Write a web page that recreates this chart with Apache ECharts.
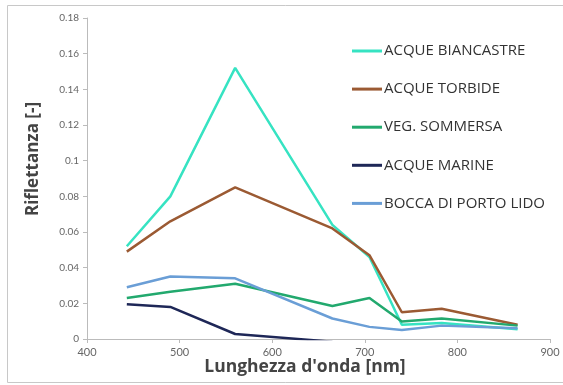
<!DOCTYPE html>
<html><head><meta charset="utf-8">
<script src="https://cdn.jsdelivr.net/npm/echarts@6/dist/echarts.min.js"></script>
<style>html,body{margin:0;padding:0;background:#fff}#c{width:563px;height:385px}</style>
</head><body><div id="c"></div>
<script>
const wavelengths = [443, 490, 560, 665, 705, 740, 783, 865];
const seriesNames = ['ACQUE BIANCASTRE', 'ACQUE TORBIDE', 'VEG. SOMMERSA', 'ACQUE MARINE', 'BOCCA DI PORTO LIDO'];
const acqueBiancastre = [0.052, 0.080, 0.152, 0.064, 0.046, 0.008, 0.009, 0.0055];
const acqueTorbide    = [0.049, 0.066, 0.085, 0.062, 0.047, 0.015, 0.017, 0.008];
const vegSommersa     = [0.023, 0.0265, 0.031, 0.0185, 0.023, 0.0098, 0.0115, 0.0075];
const acqueMarine     = [0.0195, 0.018, 0.0028, -0.0015, null, null, null, null];
const boccaPortoLido  = [0.029, 0.035, 0.034, 0.0115, 0.0068, 0.005, 0.0075, 0.006];
const yTicks = [0, 0.02, 0.04, 0.06, 0.08, 0.1, 0.12, 0.14, 0.16, 0.18];
const xTicks = [400, 500, 600, 700, 800, 900];

const colors = ['#36E3C2', '#9B5A33', '#22A96E', '#1E2757', '#6A9ED6'];
const allValues = [acqueBiancastre, acqueTorbide, vegSommersa, acqueMarine, boccaPortoLido];

const chart = echarts.init(document.getElementById('c'));
const font = '"Open Sans", Lato, sans-serif';
chart.setOption({
  animation: false,
  color: colors,
  grid: { left: 87, right: 13, top: 18, bottom: 46, containLabel: false },
  legend: {
    orient: 'vertical', left: 347, top: 38.5, itemGap: 23.1,
    itemWidth: 30, itemHeight: 3,
    icon: 'rect',
    data: seriesNames,
    textStyle: { fontFamily: font, fontSize: 15, color: '#333', padding: [0, 0, 0, -3] }
  },
  xAxis: {
    type: 'value', min: xTicks[0], max: xTicks[xTicks.length - 1], interval: 100,
    axisLine: { lineStyle: { color: '#BBBBBB' } },
    axisTick: { show: true, length: 4, lineStyle: { color: '#BBBBBB' } },
    splitLine: { show: false },
    axisLabel: { color: '#666', fontSize: 11, fontFamily: 'Lato, sans-serif', margin: 8 }
  },
  yAxis: {
    type: 'value', min: yTicks[0], max: yTicks[yTicks.length - 1], interval: 0.02,
    axisLine: { show: true, lineStyle: { color: '#BBBBBB' } },
    axisTick: { show: true, length: 4, lineStyle: { color: '#BBBBBB' } },
    splitLine: { show: false },
    axisLabel: { color: '#666', fontSize: 10, fontFamily: 'Lato, sans-serif', margin: 8,
      formatter: v => String(+v.toFixed(2)) }
  },
  graphic: [
    { type: 'rect', shape: { x: 7.5, y: 5.5, width: 600, height: 377 },
      style: { fill: 'none', stroke: '#C8C8C8', lineWidth: 1 }, z: -1 },
    { type: 'text', x: 33, y: 159, rotation: Math.PI / 2,
      style: { text: 'Riflettanza [-]', fontFamily: font, fontWeight: 'bold', fontSize: 17,
        fill: '#444', align: 'center', verticalAlign: 'middle' } },
    { type: 'text', x: 305, y: 367,
      style: { text: "Lunghezza d'onda [nm]", fontFamily: font, fontWeight: 'bold', fontSize: 17.5,
        fill: '#444', align: 'center', verticalAlign: 'middle' } }
  ],
  series: seriesNames.map((name, i) => ({
    name, type: 'line', showSymbol: false, symbol: 'none', clip: true,
    lineStyle: { width: 2.5, color: colors[i] },
    itemStyle: { color: colors[i] },
    data: wavelengths.map((w, j) => [w, allValues[i][j]]),
    connectNulls: false
  }))
});
</script></body></html>
